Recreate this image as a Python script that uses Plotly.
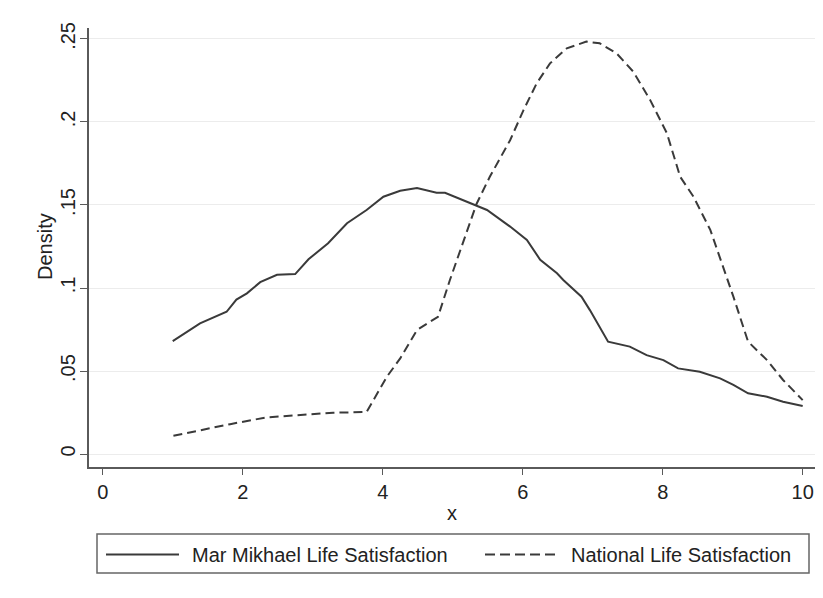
import plotly.graph_objects as go

# ---- data ----
mar_x = [1.00, 1.39, 1.77, 1.91, 2.06, 2.25, 2.49, 2.75, 2.94, 3.22, 3.49, 3.77, 4.01, 4.25,
         4.49, 4.77, 4.89, 5.25, 5.49, 5.82, 6.06, 6.25, 6.49, 6.58, 6.84, 6.96, 7.22, 7.53,
         7.77, 8.01, 8.22, 8.53, 8.82, 9.01, 9.22, 9.49, 9.72, 10.00]
mar_y = [0.068, 0.0787, 0.0857, 0.093, 0.0968, 0.1035, 0.1080, 0.1084, 0.1173, 0.1270, 0.1390,
         0.1470, 0.1550, 0.1586, 0.1602, 0.1574, 0.1574, 0.1510, 0.1470, 0.1370, 0.1290, 0.1170,
         0.1089, 0.1048, 0.0948, 0.0867, 0.0677, 0.0647, 0.0596, 0.0566, 0.0516, 0.0496, 0.0456,
         0.0416, 0.0366, 0.0345, 0.0315, 0.0290]

nat_x = [1.01, 1.63, 1.82, 2.34, 2.82, 3.29, 3.77, 4.06, 4.25, 4.49, 4.79, 4.96, 5.34, 5.53,
         5.82, 6.01, 6.20, 6.39, 6.63, 6.91, 7.10, 7.34, 7.58, 7.82, 8.06, 8.25, 8.44, 8.68,
         9.01, 9.22, 9.49, 9.72, 10.00]
nat_y = [0.0110, 0.0165, 0.0180, 0.0221, 0.0235, 0.0249, 0.0253, 0.0466, 0.0576, 0.0747, 0.0827,
         0.1048, 0.1506, 0.1670, 0.1890, 0.2070, 0.2233, 0.2353, 0.2444, 0.2484, 0.2474, 0.2414,
         0.2303, 0.2133, 0.1932, 0.1670, 0.1550, 0.1350, 0.0948, 0.0677, 0.0566, 0.0446, 0.0325]

x_ticks = [0, 2, 4, 6, 8, 10]
y_ticks = [0, 0.05, 0.10, 0.15, 0.20, 0.25]
y_tick_text = ["0", ".05", ".1", ".15", ".2", ".25"]
series_names = ["Mar Mikhael Life Satisfaction", "National Life Satisfaction"]

# ---- layout helpers (pixel geometry) ----
W, H = 823, 598
L, R, T, B = 89, 815, 28, 467          # plot area in pixels
pw, ph = R - L, B - T


def px(x):
    return (x - L) / pw


def py(y):
    return (B - y) / ph


FONT = "Liberation Sans, Arial, sans-serif"
LINE_COL = "#3a3a3a"
AXIS_COL = "#5a5a5a"

fig = go.Figure()
fig.add_trace(go.Scatter(x=mar_x, y=mar_y, mode="lines", name=series_names[0],
                         line=dict(color=LINE_COL, width=2), showlegend=False))
fig.add_trace(go.Scatter(x=nat_x, y=nat_y, mode="lines", name=series_names[1],
                         line=dict(color=LINE_COL, width=2, dash="9px,5px"), showlegend=False))

fig.update_layout(
    width=W, height=H,
    margin=dict(l=L, r=W - R, t=T, b=H - B, pad=0, autoexpand=False),
    paper_bgcolor="white", plot_bgcolor="white",
    font=dict(family=FONT, size=20, color="#222222"),
    xaxis=dict(range=[-0.196, 10.176], tickvals=x_ticks, ticks="outside", ticklen=6,
               tickcolor=AXIS_COL, showline=True, linecolor=AXIS_COL, linewidth=1.5,
               showgrid=False, zeroline=False, tickfont=dict(size=20), automargin=False),
    yaxis=dict(range=[-0.0078, 0.2566], tickvals=y_ticks, ticktext=y_tick_text,
               tickangle=-90, ticks="outside", ticklen=7, tickcolor=AXIS_COL,
               ticklabelstandoff=-3,
               showline=True, linecolor=AXIS_COL, linewidth=1.5,
               showgrid=True, gridcolor="#ececec", gridwidth=1, zeroline=False,
               tickfont=dict(size=20), automargin=False),
)

annotations = [
    dict(text="Density", x=px(45), y=py(247), xref="paper", yref="paper",
         textangle=-90, showarrow=False, xanchor="center", yanchor="middle",
         font=dict(size=20)),
    dict(text="x", x=px(452), y=py(513), xref="paper", yref="paper",
         showarrow=False, xanchor="center", yanchor="middle", font=dict(size=20)),
    dict(text=series_names[0], x=px(190), y=py(555), xref="paper", yref="paper",
         showarrow=False, xanchor="left", yanchor="middle", font=dict(size=20)),
    dict(text=series_names[1], x=px(569), y=py(555), xref="paper", yref="paper",
         showarrow=False, xanchor="left", yanchor="middle", font=dict(size=20)),
]

shapes = [
    dict(type="rect", xref="paper", yref="paper", x0=px(97), x1=px(809), y0=py(573), y1=py(534),
         line=dict(color="#666666", width=1.5), fillcolor="rgba(0,0,0,0)"),
    dict(type="line", xref="paper", yref="paper", x0=px(106), x1=px(179), y0=py(554.5), y1=py(554.5),
         line=dict(color=LINE_COL, width=2)),
    dict(type="line", xref="paper", yref="paper", x0=px(485), x1=px(557), y0=py(554.5), y1=py(554.5),
         line=dict(color=LINE_COL, width=2, dash="10px,5px")),
]

fig.update_layout(annotations=annotations, shapes=shapes)
fig.write_html("out.html",
               config={"displayModeBar": False},
               post_script="document.body.style.margin='0';document.body.style.overflow='hidden';")
